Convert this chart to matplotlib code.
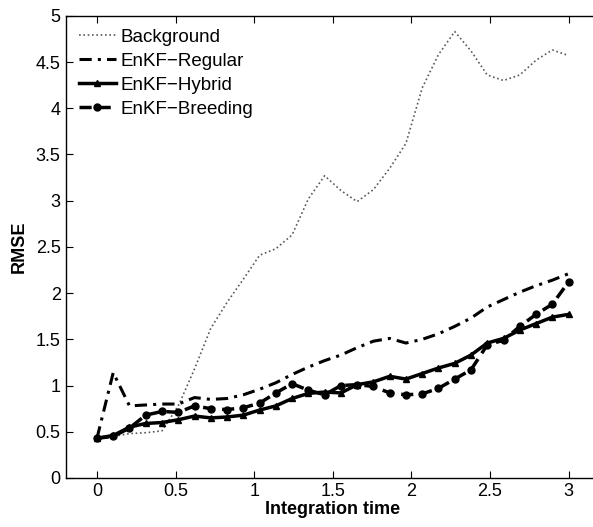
import numpy as np
import matplotlib
matplotlib.use('agg')
import matplotlib.pyplot as plt

plt.rcParams['font.family'] = ['Liberation Sans', 'DejaVu Sans']

# sample times (30 outputs between 0 and 3)
t = np.linspace(0, 3, 30)

background = [0.43, 0.45, 0.48, 0.49, 0.51, 0.78, 1.18, 1.62, 1.90, 2.15,
              2.41, 2.48, 2.63, 3.02, 3.27, 3.11, 2.99, 3.12, 3.35, 3.62,
              4.22, 4.58, 4.83, 4.62, 4.36, 4.30, 4.36, 4.52, 4.63, 4.57]
regular = [0.43, 1.14, 0.78, 0.79, 0.80, 0.80, 0.87, 0.85, 0.86, 0.90,
           0.96, 1.03, 1.12, 1.20, 1.27, 1.33, 1.41, 1.48, 1.51, 1.46,
           1.50, 1.56, 1.64, 1.73, 1.85, 1.93, 2.01, 2.08, 2.14, 2.21]
hybrid = [0.43, 0.46, 0.55, 0.59, 0.60, 0.63, 0.67, 0.65, 0.66, 0.68,
          0.735, 0.78, 0.86, 0.915, 0.93, 0.92, 1.01, 1.04, 1.10, 1.07,
          1.13, 1.19, 1.24, 1.33, 1.46, 1.51, 1.60, 1.67, 1.74, 1.77]
breeding = [0.43, 0.45, 0.54, 0.68, 0.72, 0.71, 0.78, 0.75, 0.74, 0.76,
            0.81, 0.92, 1.02, 0.95, 0.90, 1.00, 1.01, 0.99, 0.92, 0.90,
            0.91, 0.97, 1.07, 1.17, 1.44, 1.49, 1.64, 1.77, 1.88, 2.12]

fig = plt.figure(figsize=(5.93, 5.27), dpi=100)
# right spine sits just outside the picture, as in the original crop
ax = fig.add_axes([0.1105, 0.093, 0.9013, 0.877])

ax.plot(t, background, color='0.35', lw=1.2, ls=(0, (1, 1.6)), label='Background')
ax.plot(t, regular, color='k', lw=2.2, ls=(0, (4, 2, 1, 2)), label='EnKF\u2212Regular')
ax.plot(t, hybrid, '-', color='k', lw=2.5, marker='^', ms=5, label='EnKF\u2212Hybrid')
ax.plot(t, breeding, color='k', lw=2.5, ls=(0, (3.5, 2)), marker='o', ms=5,
        label='EnKF\u2212Breeding')

ax.set_xlim(-0.2, 3.2)
ax.set_ylim(0, 5)
ax.set_xticks([0, 0.5, 1, 1.5, 2, 2.5, 3])
ax.set_xticklabels(['0', '0.5', '1', '1.5', '2', '2.5', '3'])
ax.set_yticks(np.arange(0, 5.01, 0.5))
ax.set_yticklabels(['0', '0.5', '1', '1.5', '2', '2.5', '3', '3.5', '4', '4.5', '5'])
ax.tick_params(direction='in', top=True, right=True, length=5, labelsize=13, width=0.8)
ax.spines['right'].set_visible(False)
for s in ['left', 'bottom', 'top']:
    ax.spines[s].set_linewidth(1.0)

ax.set_xlabel('Integration time', fontsize=13, fontweight='bold', labelpad=1)
ax.set_ylabel('RMSE', fontsize=13, fontweight='bold', labelpad=6)

ax.legend(loc='upper left', frameon=False, fontsize=13.5, handlelength=2.0,
          handletextpad=0.25, labelspacing=0.36, borderaxespad=0.3,
          bbox_to_anchor=(0.0, 1.0))

fig.savefig('out.png', dpi=100)
